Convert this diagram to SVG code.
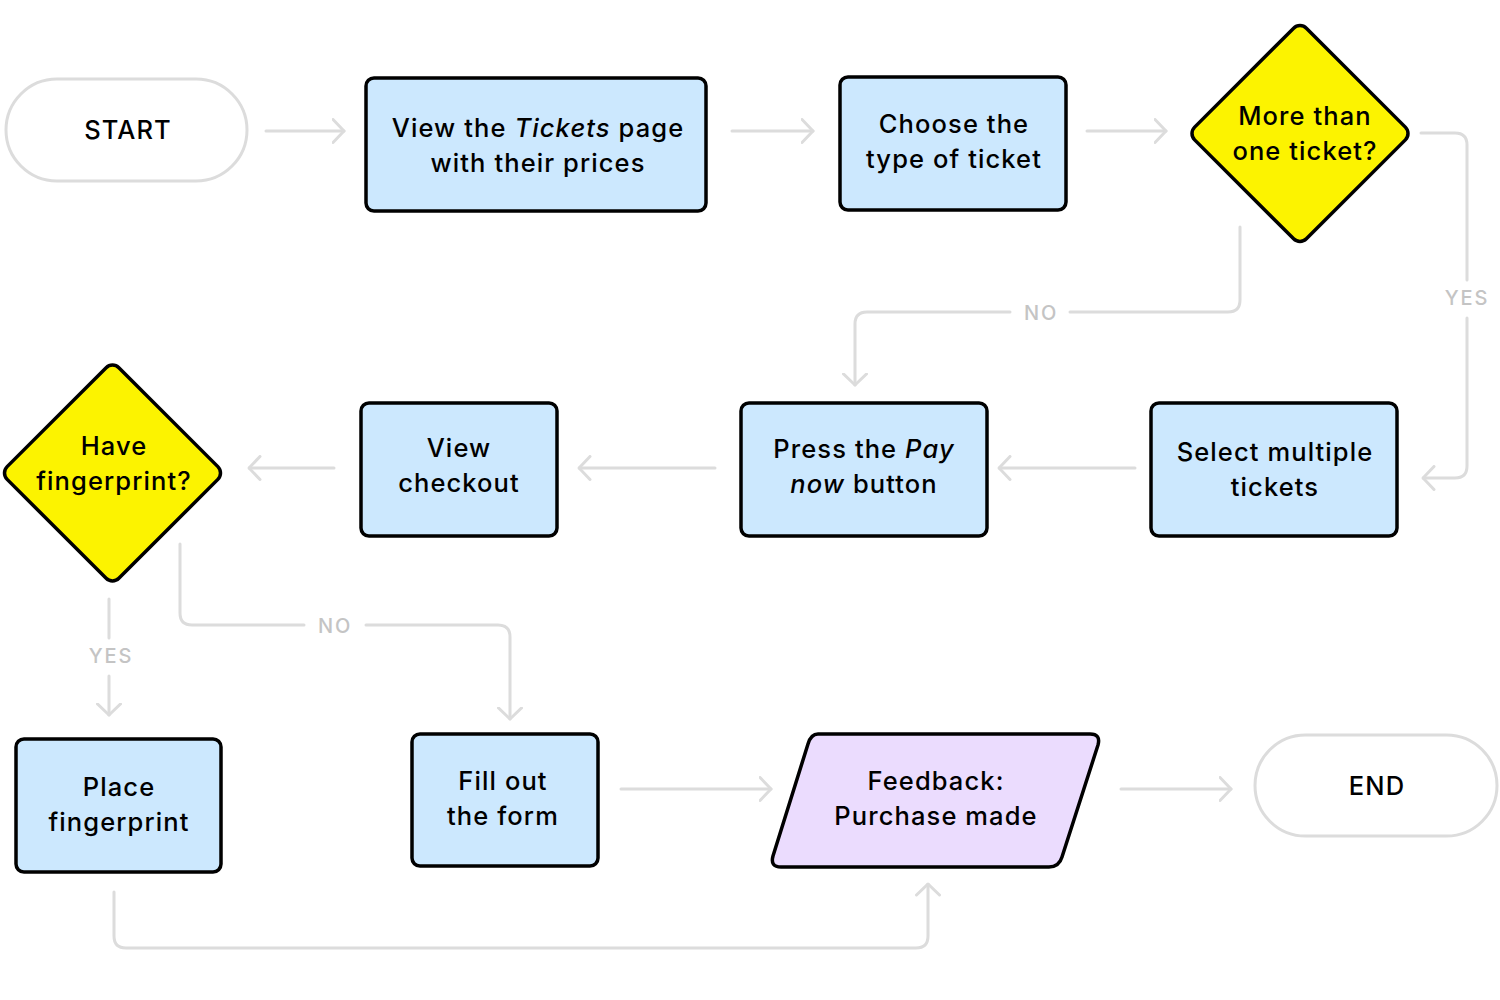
<svg xmlns="http://www.w3.org/2000/svg" width="1500" height="1000" viewBox="0 0 1500 1000">
<defs>
<style>
.term{fill:#ffffff;stroke:#dcdcdc;stroke-width:3}
.proc{fill:#cce8fe;stroke:#000;stroke-width:3.5}
.dec{fill:#fcf300;stroke:#000;stroke-width:3.5}
.io{fill:#ebdcfe;stroke:#000;stroke-width:3.5;stroke-linejoin:round}
.t{font-family:Inter,"Open Sans","Liberation Sans",sans-serif;font-size:25.5px;font-weight:500;fill:#000;text-anchor:middle;letter-spacing:1.1px}
.c{fill:none;stroke:#dcdcdc;stroke-width:3;stroke-linecap:round;stroke-linejoin:round}
.lbl{font-family:Inter,"Open Sans","Liberation Sans",sans-serif;font-size:20px;font-weight:500;fill:#c4c4c4;text-anchor:middle;letter-spacing:1.8px}
</style>
<marker id="ah" viewBox="0 0 14 26" refX="12.5" refY="13" markerWidth="14" markerHeight="26" markerUnits="userSpaceOnUse" orient="auto">
<path d="M1.5,1.5 L12.5,13 L1.5,24.5" fill="none" stroke="#dcdcdc" stroke-width="3" stroke-linecap="round" stroke-linejoin="round"/>
</marker>
</defs>
<rect width="1500" height="1000" fill="#ffffff"/>

<g id="connectors">
<path class="c" d="M266,131 H344" marker-end="url(#ah)"/>
<path class="c" d="M732,131 H813" marker-end="url(#ah)"/>
<path class="c" d="M1087,131 H1166" marker-end="url(#ah)"/>
<path class="c" d="M1421,133 H1455 Q1467,133 1467,145 V280"/>
<path class="c" d="M1467,318 V466 Q1467,478 1455,478 H1423" marker-end="url(#ah)"/>
<path class="c" d="M1240,227 V300 Q1240,312 1228,312 H1070"/>
<path class="c" d="M1010,312 H867 Q855,312 855,324 V385" marker-end="url(#ah)"/>
<path class="c" d="M1135,468 H999" marker-end="url(#ah)"/>
<path class="c" d="M715,468 H579" marker-end="url(#ah)"/>
<path class="c" d="M334,468 H249" marker-end="url(#ah)"/>
<path class="c" d="M109,599 V638"/>
<path class="c" d="M109,676 V715" marker-end="url(#ah)"/>
<path class="c" d="M180,544 V613 Q180,625 192,625 H304"/>
<path class="c" d="M366,625 H498 Q510,625 510,637 V719" marker-end="url(#ah)"/>
<path class="c" d="M621,789 H771" marker-end="url(#ah)"/>
<path class="c" d="M1121,789 H1231" marker-end="url(#ah)"/>
<path class="c" d="M114,892 V936 Q114,948 126,948 H916 Q928,948 928,936 V884" marker-end="url(#ah)"/>
<text class="lbl" x="1467" y="305">YES</text>
<text class="lbl" x="1041" y="320">NO</text>
<text class="lbl" x="111" y="663">YES</text>
<text class="lbl" x="335" y="633">NO</text>
</g>

<g id="start">
<rect class="term" x="6" y="79" width="241" height="102" rx="51"/>
<text class="t" x="128" y="139">START</text>
</g>

<g id="view-tickets">
<rect class="proc" x="366" y="78" width="340" height="133" rx="8"/>
<text class="t" x="538" y="137">View the <tspan font-style="italic">Tickets</tspan> page</text>
<text class="t" x="538" y="172">with their prices</text>
</g>

<g id="choose-type">
<rect class="proc" x="840" y="77" width="226" height="133" rx="8"/>
<text class="t" x="954" y="133">Choose the</text>
<text class="t" x="954" y="168">type of ticket</text>
</g>

<g id="more-than-one">
<rect class="dec" x="-79" y="-79" width="158" height="158" rx="9" transform="translate(1300,133.5) rotate(45)"/>
<text class="t" x="1305" y="125">More than</text>
<text class="t" x="1305" y="160">one ticket?</text>
</g>

<g id="select-multiple">
<rect class="proc" x="1151" y="403" width="246" height="133" rx="8"/>
<text class="t" x="1275" y="461">Select multiple</text>
<text class="t" x="1275" y="496">tickets</text>
</g>

<g id="press-pay">
<rect class="proc" x="741" y="403" width="246" height="133" rx="8"/>
<text class="t" x="864" y="458">Press the <tspan font-style="italic">Pay</tspan></text>
<text class="t" x="864" y="493"><tspan font-style="italic">now</tspan> button</text>
</g>

<g id="view-checkout">
<rect class="proc" x="361" y="403" width="196" height="133" rx="8"/>
<text class="t" x="459" y="457">View</text>
<text class="t" x="459" y="492">checkout</text>
</g>

<g id="have-fingerprint">
<rect class="dec" x="-79" y="-79" width="158" height="158" rx="9" transform="translate(112.5,473) rotate(45)"/>
<text class="t" x="114" y="455">Have</text>
<text class="t" x="114" y="490">fingerprint?</text>
</g>

<g id="place-fingerprint">
<rect class="proc" x="16" y="739" width="205" height="133" rx="8"/>
<text class="t" x="119" y="796">Place</text>
<text class="t" x="119" y="831">fingerprint</text>
</g>

<g id="fill-form">
<rect class="proc" x="412" y="734" width="186" height="132" rx="8"/>
<text class="t" x="503" y="790">Fill out</text>
<text class="t" x="503" y="825">the form</text>
</g>

<g id="feedback">
<path class="io" d="M818,734 H1090 Q1101,734 1098,745 L1062,857 Q1059,867 1049,867 H781 Q770,867 773,856 L808,744 Q811,734 818,734 Z"/>
<text class="t" x="936" y="790">Feedback:</text>
<text class="t" x="936" y="825">Purchase made</text>
</g>

<g id="end">
<rect class="term" x="1255" y="735" width="242" height="101" rx="50.5"/>
<text class="t" x="1377" y="795">END</text>
</g>
</svg>
